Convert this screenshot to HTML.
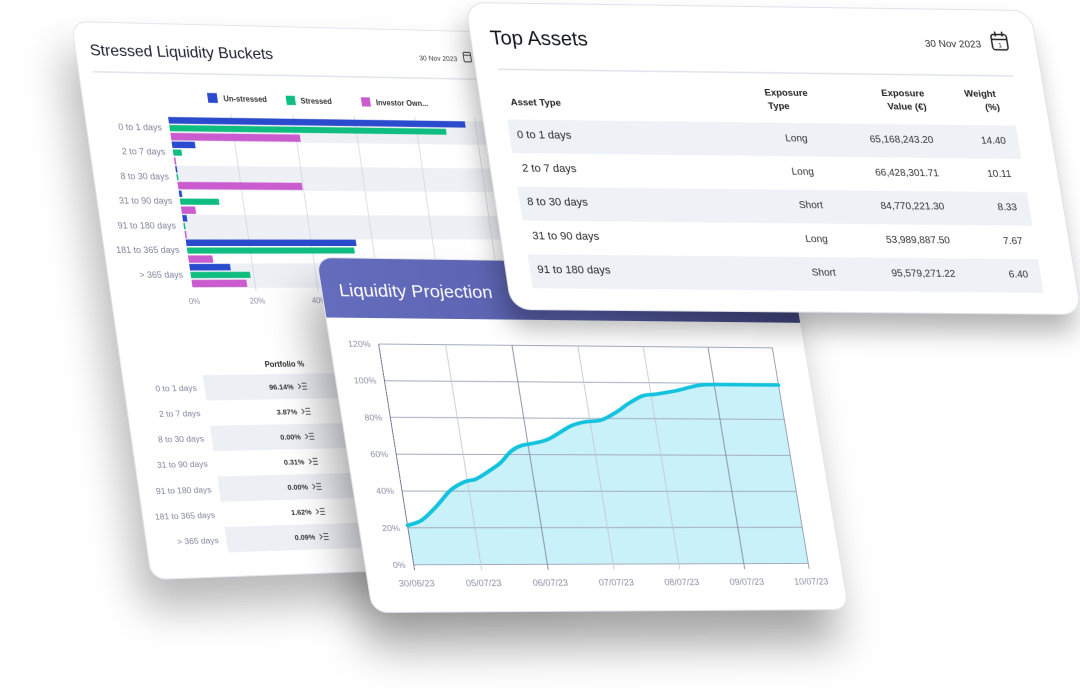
<!DOCTYPE html>
<html>
<head>
<meta charset="utf-8">
<style>
html,body{margin:0;padding:0;background:#fff;}
body{width:1080px;height:691px;overflow:hidden;position:relative;font-family:"Liberation Sans",sans-serif;}
.card{position:absolute;left:0;top:0;transform-origin:0 0;background:#fff;}
.card svg{position:absolute;left:0;top:0;display:block;}
svg text{font-family:"Liberation Sans",sans-serif;}
#c1{width:455px;height:557px;border-radius:14px;
 transform:matrix3d(1.007527,0.027365,0,0.00011065,0.143604,0.999912,0,-0.00000015,0,0,1,0,72,22,0,1);
 box-shadow:0 0 0 1px #e4e6ec,-14px 30px 42px rgba(0,0,0,0.28);}
#c3{width:475px;height:352px;border-radius:14px;overflow:hidden;
 transform:matrix3d(1.045124,0.030922,0,0.00006108,0.152023,0.994085,0,-0.00001895,0,0,1,0,317,258,0,1);
 box-shadow:0 0 0 1px #e2e5ec,-14px 34px 44px rgba(0,0,0,0.36);}
#c2{width:566px;height:306px;border-radius:18px;
 transform:matrix3d(1.014776,0.014330,0,0.000017776,0.134114,0.990216,0,-0.000031663,0,0,1,0,466,3,0,1);
 box-shadow:0 0 0 1px #dfe2ea,-6px 18px 26px rgba(0,0,0,0.30);}
</style>
</head>
<body>

<!-- Stressed Liquidity Buckets -->
<div class="card" id="c1">
<svg width="455" height="557" viewBox="0 0 455 557" xmlns="http://www.w3.org/2000/svg">
<text x="14" y="33" font-size="16" fill="#1d2030">Stressed Liquidity Buckets</text>
<text x="357" y="31" font-size="7.3" fill="#3c3c3c">30 Nov 2023</text>
<g fill="none" stroke="#333" stroke-width="0.9"><rect x="405.5" y="21.5" width="8" height="10" rx="1.5"/><line x1="405.5" y1="24.5" x2="413.5" y2="24.5"/></g>
<line x1="14" y1="49.5" x2="445" y2="49.5" stroke="#e1e4eb" stroke-width="1.4"/>

<rect x="127" y="68.8" width="10" height="10" fill="#2b4bcf"/>
<text x="143.3" y="77" font-size="7.8" font-weight="bold" fill="#333">Un-stressed</text>
<rect x="208.5" y="70.2" width="9.5" height="9.5" fill="#10bd80"/>
<text x="223.5" y="78" font-size="7.8" font-weight="bold" fill="#333">Stressed</text>
<rect x="288" y="70.5" width="9.5" height="9.5" fill="#cb5ccf"/>
<text x="303.5" y="78.3" font-size="7.8" font-weight="bold" fill="#333">Investor Own...</text>

<g fill="#eef0f5">
<rect x="83.5" y="93.5" width="336.5" height="24.72"/>
<rect x="83.5" y="142.9" width="336.5" height="24.72"/>
<rect x="83.5" y="192.4" width="336.5" height="24.72"/>
<rect x="83.5" y="241.8" width="336.5" height="24.72"/>
</g>
<g stroke="#d0d5e0" stroke-width="0.8">
<line x1="148.4" y1="90" x2="148.4" y2="270"/>
<line x1="213.3" y1="90" x2="213.3" y2="270"/>
<line x1="278.2" y1="90" x2="278.2" y2="270"/>
<line x1="343.1" y1="90" x2="343.1" y2="270"/>
<line x1="408" y1="90" x2="408" y2="270"/>
</g>
<g fill="#2b4bcf">
<rect x="83.5" y="93.8" width="313.2" height="6.6"/>
<rect x="83.5" y="118.5" width="23.7" height="6.6"/>
<rect x="83.5" y="143.2" width="1.6" height="6.6"/>
<rect x="83.5" y="168.0" width="2.9" height="6.6"/>
<rect x="83.5" y="192.7" width="4.5" height="6.6"/>
<rect x="83.5" y="217.4" width="177.2" height="6.6"/>
<rect x="83.5" y="242.1" width="41.9" height="6.6"/>
</g>
<g fill="#10bd80">
<rect x="83.5" y="101.9" width="291.4" height="6.2"/>
<rect x="83.5" y="126.6" width="8.8" height="6.2"/>
<rect x="83.5" y="151.3" width="1.6" height="6.2"/>
<rect x="83.5" y="176.1" width="39.9" height="6.2"/>
<rect x="83.5" y="200.8" width="1.6" height="6.2"/>
<rect x="83.5" y="225.5" width="174.3" height="6.2"/>
<rect x="83.5" y="250.2" width="61.3" height="6.2"/>
</g>
<g fill="#cb5ccf">
<rect x="83.5" y="109.9" width="134.0" height="7.4"/>
<rect x="83.5" y="134.6" width="1.6" height="7.4"/>
<rect x="83.5" y="159.3" width="128.8" height="7.4"/>
<rect x="83.5" y="184.1" width="14.6" height="7.4"/>
<rect x="83.5" y="208.8" width="1.6" height="7.4"/>
<rect x="83.5" y="233.5" width="25.0" height="7.4"/>
<rect x="83.5" y="258.2" width="56.5" height="7.4"/>
</g>
<g font-size="9" fill="#7e849a" text-anchor="end">
<text x="75.5" y="107.5">0 to 1 days</text>
<text x="75.5" y="132.2">2 to 7 days</text>
<text x="75.5" y="156.9">8 to 30 days</text>
<text x="75.5" y="181.7">31 to 90 days</text>
<text x="75.5" y="206.4">91 to 180 days</text>
<text x="75.5" y="231.1">181 to 365 days</text>
<text x="75.5" y="255.8">&gt; 365 days</text>
</g>
<g font-size="8" fill="#8d93a8" text-anchor="middle">
<text x="83.5" y="282.5">0%</text>
<text x="148.4" y="282.5">20%</text>
<text x="213.3" y="282.5">40%</text>
<text x="278.2" y="282.5">60%</text>
<text x="343.1" y="282.5">80%</text>
<text x="408" y="282.5">100%</text>
</g>

<text x="167" y="347" font-size="7.8" font-weight="bold" fill="#2a2a2a" text-anchor="middle">Portfolio %</text>
<g fill="#eceff4">
<rect x="81" y="354.3" width="360" height="25.55"/>
<rect x="81" y="405.4" width="360" height="25.55"/>
<rect x="81" y="456.5" width="360" height="25.55"/>
<rect x="81" y="507.6" width="360" height="25.55"/>
</g>
<g font-size="8.6" fill="#7e849a" text-anchor="end">
<text x="73" y="370.1">0 to 1 days</text>
<text x="73" y="395.65">2 to 7 days</text>
<text x="73" y="421.2">8 to 30 days</text>
<text x="73" y="446.75">31 to 90 days</text>
<text x="73" y="472.3">91 to 180 days</text>
<text x="73" y="497.85">181 to 365 days</text>
<text x="73" y="523.4">&gt; 365 days</text>
</g>
<g font-size="7.5" font-weight="bold" fill="#333" text-anchor="end">
<text x="173" y="369.8">96.14%</text>
<text x="173" y="395.35">3.87%</text>
<text x="173" y="420.9">0.00%</text>
<text x="173" y="446.45">0.31%</text>
<text x="173" y="472.0">0.00%</text>
<text x="173" y="497.55">1.62%</text>
<text x="173" y="523.1">0.09%</text>
</g>
<g fill="none" stroke="#444" stroke-width="0.9">
<path d="M178 364.6l2.5 2.5l-2.5 2.5M182 364.1h5M182 367.1h5M182 370.1h5"/>
<path d="M178 390.15l2.5 2.5l-2.5 2.5M182 389.65h5M182 392.65h5M182 395.65h5"/>
<path d="M178 415.7l2.5 2.5l-2.5 2.5M182 415.2h5M182 418.2h5M182 421.2h5"/>
<path d="M178 441.25l2.5 2.5l-2.5 2.5M182 440.75h5M182 443.75h5M182 446.75h5"/>
<path d="M178 466.8l2.5 2.5l-2.5 2.5M182 466.3h5M182 469.3h5M182 472.3h5"/>
<path d="M178 492.35l2.5 2.5l-2.5 2.5M182 491.85h5M182 494.85h5M182 497.85h5"/>
<path d="M178 517.9l2.5 2.5l-2.5 2.5M182 517.4h5M182 520.4h5M182 523.4h5"/>
</g>
</svg>
</div>

<!-- Liquidity Projection -->
<div class="card" id="c3">
<svg width="475" height="352" viewBox="0 0 475 352" xmlns="http://www.w3.org/2000/svg">
<defs>
<linearGradient id="hg" x1="0" y1="0" x2="1" y2="0">
<stop offset="0" stop-color="#646cbd"/>
<stop offset="0.55" stop-color="#5960ad"/>
<stop offset="1" stop-color="#41467f"/>
</linearGradient>
</defs>
<rect x="0" y="0" width="475" height="59.5" fill="url(#hg)"/>
<text x="16.5" y="38" font-size="18" fill="#ffffff">Liquidity Projection</text>

<path fill="#c9f1f9" d="M47,266.4 C49.43,265.55 56.47,264.38 61.6,261.3 C66.73,258.22 72.27,252.9 77.8,247.9 C83.33,242.9 89.4,235.48 94.8,231.3 C100.2,227.12 105.85,224.62 110.2,222.8 C114.55,220.98 117.22,221.83 120.9,220.4 C124.58,218.97 127.77,216.92 132.3,214.2 C136.83,211.48 143.42,207.73 148.1,204.1 C152.78,200.47 156.45,195.33 160.4,192.4 C164.35,189.47 167.53,187.93 171.8,186.5 C176.07,185.07 181.18,184.97 186,183.8 C190.82,182.63 194.37,182.35 200.7,179.5 C207.03,176.65 217.75,169.53 224,166.7 C230.25,163.87 232.87,163.57 238.2,162.5 C243.53,161.43 250.47,161.92 256,160.3 C261.53,158.68 266.27,155.67 271.4,152.8 C276.53,149.93 281.73,145.98 286.8,143.1 C291.87,140.22 296.93,137.07 301.8,135.5 C306.67,133.93 310.08,134.62 316,133.7 C321.92,132.78 330.12,131.5 337.3,130 C344.48,128.5 352.52,125.77 359.1,124.7 C365.68,123.63 372,123.6 376.8,123.6 L442,123.6 L442,305.5 L47,305.5 Z"/>

<g stroke="#a3abc0" stroke-width="1">
<line x1="47" y1="85.5" x2="442" y2="85.5"/>
<line x1="47" y1="122.2" x2="442" y2="122.2"/>
<line x1="47" y1="158.8" x2="442" y2="158.8"/>
<line x1="47" y1="195.5" x2="442" y2="195.5"/>
<line x1="47" y1="232.2" x2="442" y2="232.2"/>
<line x1="47" y1="268.8" x2="442" y2="268.8"/>
<line x1="47" y1="305.5" x2="442" y2="305.5"/>
</g>
<g stroke-width="0.9">
<line x1="112.8" y1="85.5" x2="112.8" y2="311" stroke="#c3c9d6"/>
<line x1="178.7" y1="85.5" x2="178.7" y2="311" stroke="#7f88a0"/>
<line x1="244.5" y1="85.5" x2="244.5" y2="311" stroke="#c3c9d6"/>
<line x1="310.3" y1="85.5" x2="310.3" y2="311" stroke="#c3c9d6"/>
<line x1="376.2" y1="85.5" x2="376.2" y2="311" stroke="#7f88a0"/>
<line x1="442" y1="85.5" x2="442" y2="311" stroke="#8f97ad"/>
<line x1="47" y1="85.5" x2="47" y2="311" stroke="#6e7690"/>
</g>

<path fill="none" stroke="#13c3dd" stroke-width="3.6" stroke-linejoin="round" stroke-linecap="round" d="M47,266.4 C49.43,265.55 56.47,264.38 61.6,261.3 C66.73,258.22 72.27,252.9 77.8,247.9 C83.33,242.9 89.4,235.48 94.8,231.3 C100.2,227.12 105.85,224.62 110.2,222.8 C114.55,220.98 117.22,221.83 120.9,220.4 C124.58,218.97 127.77,216.92 132.3,214.2 C136.83,211.48 143.42,207.73 148.1,204.1 C152.78,200.47 156.45,195.33 160.4,192.4 C164.35,189.47 167.53,187.93 171.8,186.5 C176.07,185.07 181.18,184.97 186,183.8 C190.82,182.63 194.37,182.35 200.7,179.5 C207.03,176.65 217.75,169.53 224,166.7 C230.25,163.87 232.87,163.57 238.2,162.5 C243.53,161.43 250.47,161.92 256,160.3 C261.53,158.68 266.27,155.67 271.4,152.8 C276.53,149.93 281.73,145.98 286.8,143.1 C291.87,140.22 296.93,137.07 301.8,135.5 C306.67,133.93 310.08,134.62 316,133.7 C321.92,132.78 330.12,131.5 337.3,130 C344.48,128.5 352.52,125.77 359.1,124.7 C365.68,123.63 372,123.6 376.8,123.6 L442,123.6"/>

<g font-size="8.6" fill="#8a90a6" text-anchor="end">
<text x="39" y="88.5">120%</text>
<text x="39" y="125.2">100%</text>
<text x="39" y="161.8">80%</text>
<text x="39" y="198.5">60%</text>
<text x="39" y="235.2">40%</text>
<text x="39" y="271.8">20%</text>
<text x="39" y="308.5">0%</text>
</g>
<g font-size="9" fill="#8a90a6" text-anchor="middle">
<text x="47" y="327">30/06/23</text>
<text x="112.8" y="327">05/07/23</text>
<text x="178.7" y="327">06/07/23</text>
<text x="244.5" y="327">07/07/23</text>
<text x="310.3" y="327">08/07/23</text>
<text x="376.2" y="327">09/07/23</text>
<text x="442" y="327">10/07/23</text>
</g>
</svg>
</div>

<!-- Top Assets -->
<div class="card" id="c2">
<svg width="566" height="306" viewBox="0 0 566 306" xmlns="http://www.w3.org/2000/svg">
<text x="19" y="41.3" font-size="20" fill="#15171f">Top Assets</text>
<text x="454" y="38.2" font-size="10" fill="#333">30 Nov 2023</text>
<g fill="none" stroke="#222" stroke-width="1.5">
<rect x="522" y="24.5" width="15.5" height="15.5" rx="2.5"/>
<line x1="522" y1="29.5" x2="537.5" y2="29.5"/>
<line x1="526.5" y1="21.5" x2="526.5" y2="26.5"/>
<line x1="533.5" y1="21.5" x2="533.5" y2="26.5"/>
</g>
<text x="529.8" y="37.6" font-size="6.5" fill="#222" text-anchor="middle">1</text>
<line x1="22" y1="66.5" x2="538" y2="66.5" stroke="#dfe3ea" stroke-width="1.5"/>

<g font-size="9.5" font-weight="bold" fill="#222">
<text x="29.5" y="102.3">Asset Type</text>
<text x="284.5" y="89.5">Exposure</text>
<text x="286" y="103">Type</text>
<text x="445" y="88.5" text-anchor="end">Exposure</text>
<text x="445" y="102" text-anchor="end">Value (€)</text>
<text x="517" y="88" text-anchor="end">Weight</text>
<text x="519" y="101.5" text-anchor="end">(%)</text>
</g>

<g fill="#eef1f6">
<rect x="23.5" y="116.9" width="508.5" height="33.65"/>
<rect x="23.5" y="184.2" width="508.5" height="33.65"/>
<rect x="23.5" y="251.5" width="508.5" height="33.65"/>
</g>
<g font-size="11" fill="#2a2a2a">
<text x="31" y="135.4">0 to 1 days</text>
<text x="31" y="169.05">2 to 7 days</text>
<text x="31" y="202.7">8 to 30 days</text>
<text x="31" y="236.35">31 to 90 days</text>
<text x="31" y="270">91 to 180 days</text>
</g>
<g font-size="10" fill="#333">
<text x="298" y="135.4">Long</text>
<text x="299" y="169.05">Long</text>
<text x="301" y="202.7">Short</text>
<text x="302" y="236.35">Long</text>
<text x="303" y="270">Short</text>
</g>
<g font-size="10" fill="#333" text-anchor="end">
<text x="446.5" y="135.4">65,168,243.20</text>
<text x="446.5" y="169.05">66,428,301.71</text>
<text x="446.5" y="202.7">84,770,221.30</text>
<text x="446.5" y="236.35">53,989,887.50</text>
<text x="446.5" y="270">95,579,271.22</text>
<text x="519.5" y="135.4">14.40</text>
<text x="519.5" y="169.05">10.11</text>
<text x="519.5" y="202.7">8.33</text>
<text x="519.5" y="236.35">7.67</text>
<text x="519.5" y="270">6.40</text>
</g>
</svg>
</div>

</body>
</html>
